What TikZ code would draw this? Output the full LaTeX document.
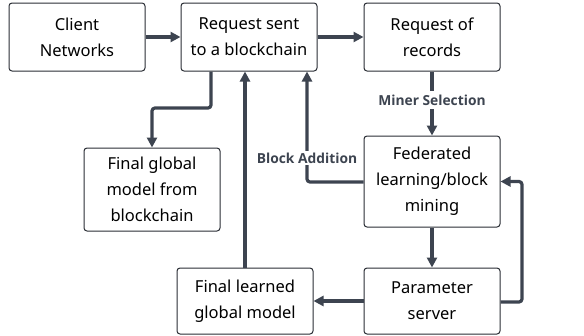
\documentclass[tikz,border=0pt]{standalone}
\usepackage{fontspec}
\setmainfont{Noto Sans}
\newfontfamily\lblfont{Open Sans}
\usetikzlibrary{arrows.meta}
\definecolor{linecol}{HTML}{3D4450}
\definecolor{boxline}{HTML}{2A2E35}
\begin{document}
\begin{tikzpicture}[x=1pt,y=-1pt,
  box/.style={draw=boxline, line width=1pt, rounded corners=3pt, fill=white,
    minimum width=136pt, align=center, inner sep=0pt,
    font=\fontsize{16.5}{26}\selectfont},
  conn/.style={draw=linecol, line width=3.2pt, -{Triangle[length=10pt,width=10pt]}},
  lbl/.style={font=\lblfont\bfseries\fontsize{13.8}{16}\selectfont, text=linecol, fill=white, inner sep=1.5pt}]
\useasboundingbox (0,0) rectangle (584,335);
% boxes
\node[box, minimum height=68pt] (client) at (77,37) {Client\\Networks};
\node[box, minimum height=68pt] (req) at (249,37) {Request sent\\to a blockchain};
\node[box, minimum height=68pt] (rec) at (432,37) {Request of\\records};
\node[box, minimum height=91pt] (fed) at (432,181.5) {Federated\\learning/block\\mining};
\node[box, minimum height=66pt] (param) at (432,301) {Parameter\\server};
\node[box, minimum height=66pt] (flm) at (245,301) {Final learned\\global model};
\node[box, minimum height=83pt] (fgm) at (152,189.5) {Final global\\model from\\blockchain};
% connectors
\draw[conn] (client.east) -- (req.west);
\draw[conn] (req.east) -- (rec.west);
\draw[conn] (rec.south) -- (fed.north);
\node[lbl, inner ysep=4pt] (ms) at (432,100) {Miner Selection};
\draw[conn, rounded corners=3pt] (req.south -| 211,0) |- (152,108) -- (fgm.north);
\draw[conn] (flm.north) -- (req.south -| flm.north);
\coordinate (bend) at (307,182);
\draw[conn, rounded corners=3pt] (fed.west |- bend) -- (bend) -- (req.south -| bend);
\node[lbl] (ba) at (307,158) {Block Addition};
\draw[conn] (fed.south) -- (param.north);
\draw[conn] (param.west) -- (flm.east);
\coordinate (rturn) at (522,302);
\draw[conn, rounded corners=3pt] (param.east |- rturn) -- (rturn) |- (fed.east);
\end{tikzpicture}
\end{document}
